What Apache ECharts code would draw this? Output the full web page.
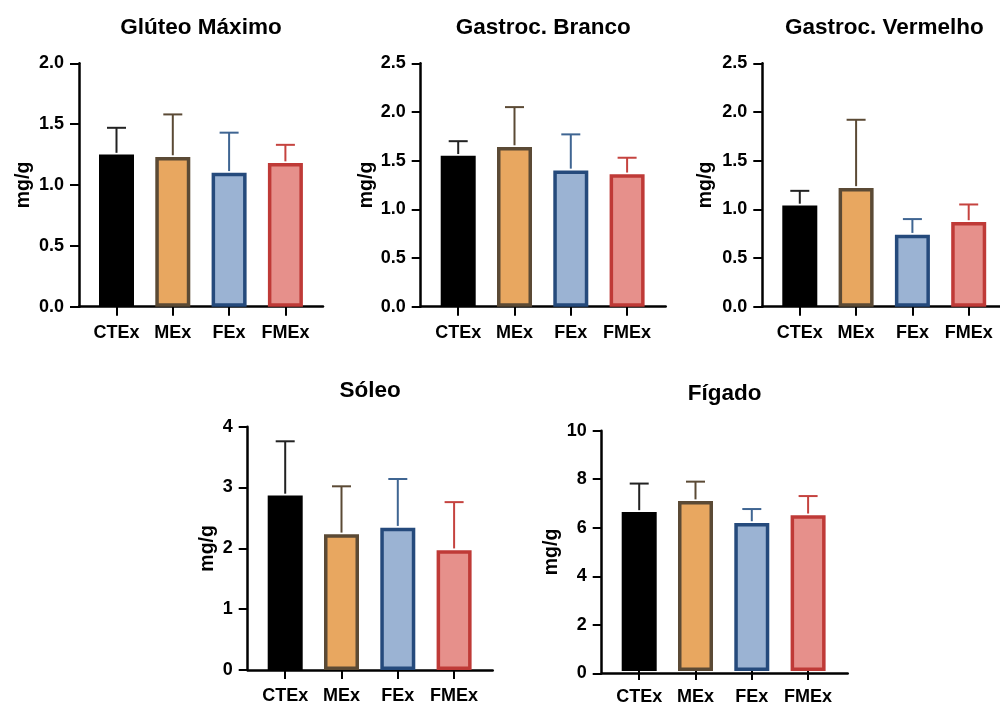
<!DOCTYPE html>
<html>
<head>
<meta charset="utf-8">
<script src="https://cdn.jsdelivr.net/npm/echarts@6/dist/echarts.min.js"></script>
<style>
html,body{margin:0;padding:0;background:#fff;}
#chart{width:1000px;height:706px;}
</style>
</head>
<body>
<div id="chart"></div>
<script>
// ---- data ----
const categories = ['CTEx', 'MEx', 'FEx', 'FMEx'];
const titles = ['Glúteo Máximo', 'Gastroc. Branco', 'Gastroc. Vermelho', 'Sóleo', 'Fígado'];
const yName = 'mg/g';

const gluteoMean   = [1.25, 1.23, 1.10, 1.18];
const gluteoSD     = [0.22, 0.35, 0.33, 0.15];
const brancoMean   = [1.55, 1.64, 1.40, 1.36];
const brancoSD     = [0.15, 0.41, 0.37, 0.17];
const vermelhoMean = [1.04, 1.22, 0.74, 0.87];
const vermelhoSD   = [0.15, 0.70, 0.16, 0.18];
const soleoMean    = [2.87, 2.23, 2.34, 1.97];
const soleoSD      = [0.89, 0.79, 0.80, 0.79];
const figadoMean   = [6.62, 7.07, 6.16, 6.48];
const figadoSD     = [1.18, 0.81, 0.58, 0.80];

const yMax      = [2.0, 2.5, 2.5, 4, 10];
const yInterval = [0.5, 0.5, 0.5, 1, 2];
const yDecimals = [1, 1, 1, 0, 0];

// ---- styles ----
const fillColors   = ['#000000', '#e8a760', '#9bb3d3', '#e6908b'];
const borderColors = ['#000000', '#5b4a35', '#254a7c', '#bf3a37'];
const errColors    = ['#222222', '#5b4a35', '#3f6592', '#c5433f'];
const FONT = '"Liberation Sans", Arial, Helvetica, sans-serif';

const means = [gluteoMean, brancoMean, vermelhoMean, soleoMean, figadoMean];
const sds   = [gluteoSD, brancoSD, vermelhoSD, soleoSD, figadoSD];

// layout: y-axis x position, plot top, plot height, axis span, name gap, title top
const layout = [
  {x: 79,    top: 63.3,  h: 243.4, span: 244, gap: 45, ttop: 16},
  {x: 420.7, top: 63.3,  h: 243.4, span: 245, gap: 44, ttop: 16},
  {x: 762.3, top: 63.3,  h: 243.4, span: 244, gap: 47, ttop: 16},
  {x: 247.7, top: 426.7, h: 243.3, span: 245, gap: 30, ttop: 379},
  {x: 601.7, top: 430.7, h: 242.6, span: 246, gap: 40, ttop: 382}
];
const firstOffset = 37.5, spacing = 56.3;

const grid = [], xAxis = [], yAxis = [], series = [], title = [];

layout.forEach((L, p) => {
  const outer = grid.length;
  grid.push({left: L.x, top: L.top, width: L.span, height: L.h, containLabel: false});
  const inner = grid.length;
  grid.push({left: L.x + firstOffset - spacing / 2, top: L.top, width: spacing * 4, height: L.h, containLabel: false});

  title.push({
    text: titles[p], left: L.x + L.span / 2, top: L.ttop, textAlign: 'center', padding: 0,
    textStyle: {fontFamily: FONT, fontSize: 22.5, fontWeight: 'bold', color: '#000'}
  });

  // outer axes: axis lines, y ticks, y labels, y name
  xAxis.push({
    gridIndex: outer, type: 'value', min: 0, max: 1,
    axisLine: {show: true, onZero: true, lineStyle: {color: '#000', width: 2.5}},
    axisTick: {show: false}, axisLabel: {show: false}, splitLine: {show: false}
  });
  yAxis.push({
    gridIndex: outer, type: 'value', min: 0, max: yMax[p], interval: yInterval[p],
    name: yName, nameLocation: 'middle', nameRotate: 90, nameGap: L.gap,
    nameTextStyle: {fontFamily: FONT, fontSize: 19.5, fontWeight: 'bold', color: '#000'},
    axisLine: {show: true, lineStyle: {color: '#000', width: 2.5}},
    axisTick: {show: true, length: 9, lineStyle: {color: '#000', width: 2}},
    axisLabel: {
      margin: 15, fontFamily: FONT, fontSize: 18, fontWeight: 'bold', color: '#000',
      formatter: v => v.toFixed(yDecimals[p])
    },
    splitLine: {show: false}
  });

  // inner axes: categories
  xAxis.push({
    gridIndex: inner, type: 'category', data: categories, boundaryGap: true,
    axisLine: {show: false},
    axisTick: {show: true, alignWithLabel: true, interval: 0, length: 9, lineStyle: {color: '#000', width: 2}},
    axisLabel: {interval: 0, margin: 17, fontFamily: FONT, fontSize: 18, fontWeight: 'bold', color: '#000'},
    splitLine: {show: false}
  });
  yAxis.push({gridIndex: inner, type: 'value', min: 0, max: yMax[p], show: false, splitLine: {show: false}});

  const xi = xAxis.length - 1, yi = yAxis.length - 1;
  series.push({
    type: 'bar', xAxisIndex: xi, yAxisIndex: yi, barWidth: 35,
    data: means[p].map((m, i) => ({
      value: m,
      itemStyle: {color: fillColors[i], borderColor: borderColors[i], borderWidth: 3.5}
    })),
    z: 2
  });
  series.push({
    type: 'custom', xAxisIndex: xi, yAxisIndex: yi, z: 3,
    data: means[p].map((m, i) => [i, m, m + sds[p][i]]),
    renderItem: (params, api) => {
      const i = api.value(0);
      const base = api.coord([i, api.value(1)]);
      const top = api.coord([i, api.value(2)]);
      const hw = 9.5;
      const style = {stroke: errColors[i], lineWidth: 2, fill: null};
      return {
        type: 'group',
        children: [
          {type: 'line', shape: {x1: base[0], y1: base[1] - 1.75, x2: top[0], y2: top[1]}, style: style},
          {type: 'line', shape: {x1: top[0] - hw, y1: top[1], x2: top[0] + hw, y2: top[1]}, style: style}
        ]
      };
    }
  });
});

const chart = echarts.init(document.getElementById('chart'), null, {renderer: 'canvas'});
chart.setOption({
  animation: false,
  backgroundColor: '#ffffff',
  title, grid, xAxis, yAxis, series
});
</script>
</body>
</html>
